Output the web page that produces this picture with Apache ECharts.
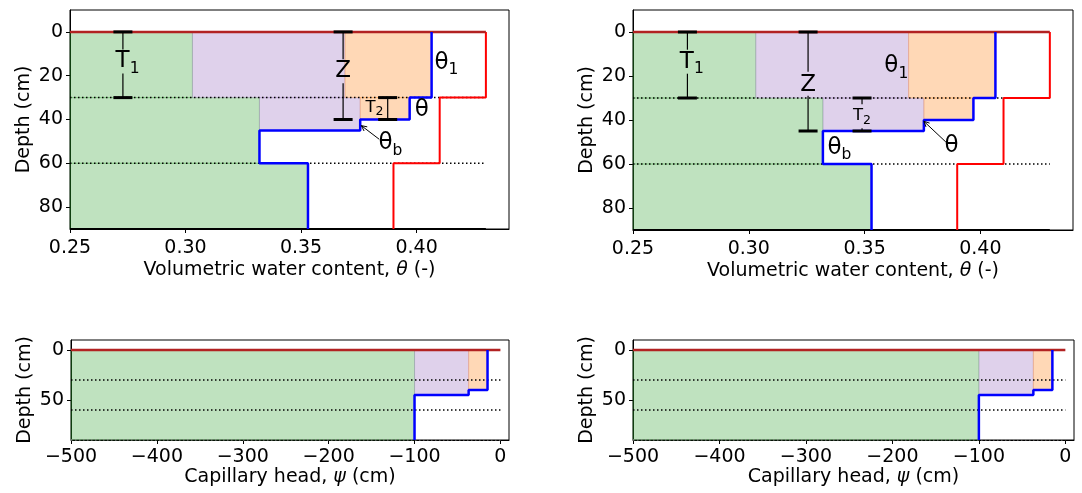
<!DOCTYPE html>
<html><head><meta charset="utf-8">
<script src="https://cdn.jsdelivr.net/npm/echarts@6/dist/echarts.min.js"></script>
<style>html,body{margin:0;padding:0;background:#fff}#c{width:1082px;height:493px}</style>
</head><body><div id="c"></div>
<script>
// ---------------- data ----------------
const layerDepths = [0, 30, 60, 90];
const thetaSat = [0.43, 0.41, 0.39];                 // saturated water content per layer
const thetaProfileDepths = [0, 30, 40, 45, 60, 90];
const thetaProfile = [0.4065, 0.397, 0.3756, 0.332, 0.353];
const psiProfileDepths = [0, 40, 45, 90];
const psiProfile = [-15, -37, -100];
const layerBoundaries = [30, 60];
const soilBottom = 90;
const psiSurfaceEnd = 0;
// shaded regions: [from, to, depthTop, depthBottom]
const greenTheta = [[0.25, 0.303, 0, 30], [0.25, 0.332, 30, 60], [0.25, 0.353, 60, 90]];
const purpleTheta = [[0.303, 0.369, 0, 30], [0.332, 0.3756, 30, 45]];
const orangeTheta = [[0.369, 0.4065, 0, 30], [0.3756, 0.397, 30, 40]];
const greenPsi = [[-500, -100, 0, 90]];
const purplePsi = [[-100, -37, 0, 45]];
const orangePsi = [[-37, -15, 0, 40]];
// ticks
const thetaTicks = [0.25, 0.30, 0.35, 0.40];
const depthTicksTop = [0, 20, 40, 60, 80];
const psiTicks = [-500, -400, -300, -200, -100, 0];
const depthTicksBottom = [0, 50];
// annotations: bars [x, depthTop, depthBottom, labelDepth(gap) or null]
const barsLeft = [[0.2729, 0, 30, 13.5], [0.3682, 0, 40, 18], [0.3875, 30, 40, null]];
const barsRight = [[0.2735, 0, 30, 13.5], [0.3256, 0, 45, 23.5], [0.3489, 30, 45, 38.3]];
// labels [x, depth, main, subscript]
const labelsLeft = [[0.2749, 13.5, 'T', '1'], [0.3682, 18, 'Z', ''], [0.4129, 14, 'θ', '1'], [0.4023, 35.6, 'θ', ''], [0.3887, 50.8, 'θ', 'b']];
const smallLabelsLeft = [[0.3818, 34.5, 'T', '2']];
const labelsRight = [[0.2754, 13.5, 'T', '1'], [0.3256, 23.9, 'Z', ''], [0.3637, 15.5, 'θ', '1'], [0.3875, 51.8, 'θ', ''], [0.3391, 52.6, 'θ', 'b']];
const smallLabelsRight = [[0.3489, 38.0, 'T', '2']];
// arrows [fromX, fromDepth, toX, toDepth]
const arrowsLeft = [[0.3838, 49.0, 0.3761, 42.8]];
const arrowsRight = [[0.3851, 50.0, 0.3756, 40.6]];

// ---------------- helpers ----------------
const FONT = 'DejaVu Sans';
const FS = 19;
function stepPoints(depths, values) {
  const pts = [];
  for (let i = 0; i < values.length; i++) {
    pts.push([values[i], depths[i]]);
    pts.push([values[i], depths[i + 1]]);
  }
  return pts;
}
function lineSeries(gi, pts, color, width, type, z) {
  return {type: 'line', xAxisIndex: gi, yAxisIndex: gi, data: pts, symbol: 'none', showSymbol: false,
    silent: true, animation: false, z: z, lineStyle: {color: color, width: width, type: type || 'solid', cap: 'butt'}};
}
function rectSeries(gi, rects, rgb) {
  return {type: 'custom', xAxisIndex: gi, yAxisIndex: gi, silent: true, z: 1, animation: false,
    data: rects.map(r => [r[0], r[2]]),
    renderItem(params, api) {
      const r = rects[params.dataIndex];
      const p0 = api.coord([r[0], r[2]]), p1 = api.coord([r[1], r[3]]);
      return {type: 'rect', shape: {x: Math.min(p0[0], p1[0]), y: Math.min(p0[1], p1[1]),
        width: Math.abs(p1[0] - p0[0]), height: Math.abs(p1[1] - p0[1])},
        style: {fill: 'rgba(' + rgb + ',0.3)', stroke: 'rgba(' + rgb + ',0.25)', lineWidth: 1}};
    }};
}
function barSeries(gi, bars) {
  return {type: 'custom', xAxisIndex: gi, yAxisIndex: gi, silent: true, z: 6, animation: false,
    data: bars.map(b => [b[0], b[1]]),
    renderItem(params, api) {
      const b = bars[params.dataIndex];
      const pt = api.coord([b[0], b[1]]), pb = api.coord([b[0], b[2]]);
      const ch = [];
      const ls = {stroke: '#000', lineWidth: 1.2};
      if (b[3] !== null) {
        const pg = api.coord([b[0], b[3]]);
        const g = 12;
        ch.push({type: 'line', shape: {x1: pt[0], y1: pt[1], x2: pt[0], y2: pg[1] - g}, style: ls});
        ch.push({type: 'line', shape: {x1: pt[0], y1: pg[1] + g, x2: pt[0], y2: pb[1]}, style: ls});
      } else {
        ch.push({type: 'line', shape: {x1: pt[0], y1: pt[1], x2: pb[0], y2: pb[1]}, style: ls});
      }
      const cw = 9.5, cs = {stroke: '#000', lineWidth: 3};
      ch.push({type: 'line', shape: {x1: pt[0] - cw, y1: pt[1], x2: pt[0] + cw, y2: pt[1]}, style: cs});
      ch.push({type: 'line', shape: {x1: pb[0] - cw, y1: pb[1], x2: pb[0] + cw, y2: pb[1]}, style: cs});
      return {type: 'group', children: ch};
    }};
}
function labelSeries(gi, labels, mainSize, subSize) {
  return {type: 'custom', xAxisIndex: gi, yAxisIndex: gi, silent: true, z: 7, animation: false,
    data: labels.map(l => [l[0], l[1]]),
    renderItem(params, api) {
      const l = labels[params.dataIndex];
      const p = api.coord([l[0], l[1]]);
      const txt = '{m|' + l[2] + '}' + (l[3] ? '{s|' + l[3] + '}' : '');
      return {type: 'text', x: p[0], y: p[1], style: {text: txt, fill: '#000', align: 'center', verticalAlign: 'middle',
        fontFamily: FONT, fontSize: mainSize,
        rich: {m: {fontSize: mainSize, fontFamily: FONT, lineHeight: mainSize * 1.36, verticalAlign: 'middle', fill: '#000'},
               s: {fontSize: subSize, fontFamily: FONT, lineHeight: subSize, verticalAlign: 'bottom', fill: '#000'}}}};
    }};
}
function arrowSeries(gi, arrows) {
  return {type: 'custom', xAxisIndex: gi, yAxisIndex: gi, silent: true, z: 7, animation: false,
    data: arrows.map(a => [a[0], a[1]]),
    renderItem(params, api) {
      const a = arrows[params.dataIndex];
      const p0 = api.coord([a[0], a[1]]), p1 = api.coord([a[2], a[3]]);
      const ang = Math.atan2(p1[1] - p0[1], p1[0] - p0[0]);
      const L = 6, da = 0.45;
      const s = {stroke: '#000', lineWidth: 1};
      return {type: 'group', children: [
        {type: 'line', shape: {x1: p0[0], y1: p0[1], x2: p1[0], y2: p1[1]}, style: s},
        {type: 'line', shape: {x1: p1[0], y1: p1[1], x2: p1[0] - L * Math.cos(ang - da), y2: p1[1] - L * Math.sin(ang - da)}, style: s},
        {type: 'line', shape: {x1: p1[0], y1: p1[1], x2: p1[0] - L * Math.cos(ang + da), y2: p1[1] - L * Math.sin(ang + da)}, style: s}
      ]};
    }};
}
const dotted = [1.5, 2.5];

function thetaPanel(gi, bars, labels, smallLabels, arrows) {
  const xmin = thetaTicks[0], xend = thetaSat[0];
  const s = [
    rectSeries(gi, greenTheta, '44,160,44'),
    rectSeries(gi, purpleTheta, '148,103,189'),
    rectSeries(gi, orangeTheta, '255,127,14')
  ];
  layerBoundaries.forEach(d => s.push(lineSeries(gi, [[xmin, d], [xend, d]], '#000', 1.5, dotted, 3)));
  s.push(lineSeries(gi, [[xmin, soilBottom], [xend, soilBottom]], '#000', 2, 'solid', 3));
  s.push(lineSeries(gi, stepPoints(layerDepths, thetaSat), '#ff0000', 2, 'solid', 4));
  s.push(lineSeries(gi, [[xmin, 0], [xend, 0]], '#b22222', 2.5, 'solid', 4));
  s.push(lineSeries(gi, stepPoints(thetaProfileDepths, thetaProfile), '#0000ff', 2.5, 'solid', 5));
  s.push(barSeries(gi, bars));
  s.push(labelSeries(gi, labels, 23, 15.5));
  s.push(labelSeries(gi, smallLabels, 16.5, 12.5));
  s.push(arrowSeries(gi, arrows));
  return s;
}
function psiPanel(gi) {
  const xmin = psiTicks[0], xend = psiSurfaceEnd;
  const s = [
    rectSeries(gi, greenPsi, '44,160,44'),
    rectSeries(gi, purplePsi, '148,103,189'),
    rectSeries(gi, orangePsi, '255,127,14')
  ];
  layerBoundaries.forEach(d => s.push(lineSeries(gi, [[xmin, d], [xend, d]], '#000', 1.5, dotted, 3)));
  s.push(lineSeries(gi, [[xmin, soilBottom], [xend, soilBottom]], '#888', 1.5, dotted, 3));
  s.push(lineSeries(gi, [[xmin, 0], [xend, 0]], '#b22222', 2.5, 'solid', 4));
  s.push(lineSeries(gi, stepPoints(psiProfileDepths, psiProfile), '#0000ff', 2.5, 'solid', 5));
  return s;
}

const grids = [
  {left: 70, top: 10, width: 439, height: 219},
  {left: 633, top: 10, width: 440, height: 220},
  {left: 71, top: 340, width: 438, height: 100},
  {left: 633, top: 340, width: 441, height: 100}
].map(g => Object.assign({show: true, borderColor: '#000', borderWidth: 1, backgroundColor: 'transparent', containLabel: false}, g));

const axisCommon = {
  splitLine: {show: false},
  axisLine: {show: true, onZero: false, lineStyle: {color: '#000', width: 1}},
  nameTextStyle: {fontSize: FS, fontFamily: FONT, color: '#000'}
};
function xAx(gi, min, max, ticks, fmt, name, gap, margin) {
  return Object.assign({}, axisCommon, {
    type: 'value', gridIndex: gi, min: min, max: max, position: 'bottom',
    axisTick: {show: true, customValues: ticks, length: 4, lineStyle: {color: '#000'}},
    axisLabel: {customValues: ticks, formatter: fmt, fontSize: FS, fontFamily: FONT, color: '#000', margin: margin},
    name: name, nameLocation: 'middle', nameGap: gap,
    nameTextStyle: {fontSize: FS, fontFamily: FONT, color: '#000',
      rich: {a: {fontSize: FS, fontFamily: FONT, color: '#000'}, b: {fontSize: FS, fontFamily: FONT, fontStyle: 'italic', color: '#000'}}}
  });
}
function yAx(gi, ticks) {
  return Object.assign({}, axisCommon, {
    type: 'value', gridIndex: gi, min: -10, max: 90, inverse: true,
    axisTick: {show: true, customValues: ticks, length: 4, lineStyle: {color: '#000'}},
    axisLabel: {customValues: ticks, fontSize: FS, fontFamily: FONT, color: '#000', margin: 7},
    name: 'Depth (cm)', nameLocation: 'middle', nameGap: 36
  });
}
const thetaName = '{a|Volumetric water content, }{b|θ}{a| (-)}';
const psiName = '{a|Capillary head, }{b|ψ}{a| (cm)}';
const fmtTheta = v => v.toFixed(2);
const fmtPsi = v => String(Math.round(v)).replace('-', '\u2212');

const option = {
  animation: false,
  backgroundColor: '#fff',
  grid: grids,
  xAxis: [
    xAx(0, 0.25, 0.44, thetaTicks, fmtTheta, thetaName, 32, 10),
    xAx(1, 0.25, 0.44, thetaTicks, fmtTheta, thetaName, 32, 10),
    xAx(2, -500, 10, psiTicks, fmtPsi, psiName, 28, 8),
    xAx(3, -500, 10, psiTicks, fmtPsi, psiName, 28, 8)
  ],
  yAxis: [yAx(0, depthTicksTop), yAx(1, depthTicksTop), yAx(2, depthTicksBottom), yAx(3, depthTicksBottom)],
  series: [].concat(
    thetaPanel(0, barsLeft, labelsLeft, smallLabelsLeft, arrowsLeft),
    thetaPanel(1, barsRight, labelsRight, smallLabelsRight, arrowsRight),
    psiPanel(2), psiPanel(3)
  )
};
const chart = echarts.init(document.getElementById('c'), null, {renderer: 'canvas'});
chart.setOption(option);
</script></body></html>
